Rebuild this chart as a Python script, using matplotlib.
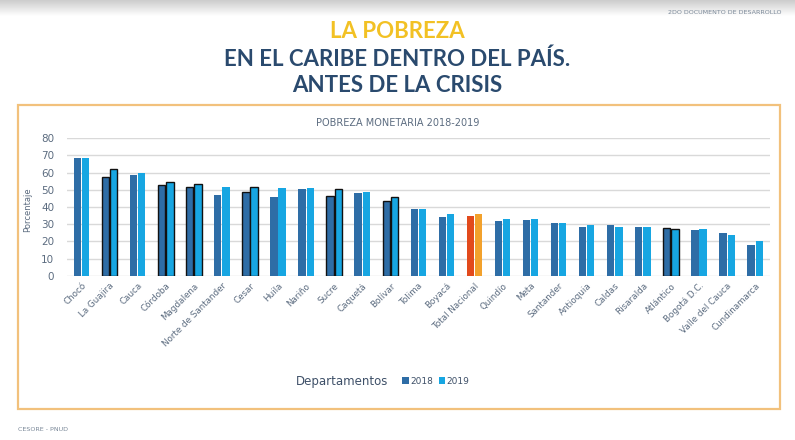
import numpy as np
import matplotlib
matplotlib.use("Agg")
import matplotlib.pyplot as plt
from matplotlib.patches import Rectangle, Patch

# ---- data ----
departamentos = ["Chocó", "La Guajira", "Cauca", "Córdoba", "Magdalena",
                 "Norte de Santander", "Cesar", "Huila", "Nariño", "Sucre",
                 "Caquetá", "Bolívar", "Tolima", "Boyacá", "Total Nacional",
                 "Quindío", "Meta", "Santander", "Antioquia", "Caldas",
                 "Risaralda", "Atlántico", "Bogotá D.C.", "Valle del Cauca",
                 "Cundinamarca"]
pobreza_2018 = [68.5, 57.3, 58.6, 52.6, 51.7, 47.2, 48.9, 45.6, 50.3, 46.2,
                48.3, 43.5, 39.0, 34.2, 34.8, 32.0, 32.6, 30.7, 28.2, 29.5,
                28.5, 28.0, 26.4, 24.7, 18.1]
pobreza_2019 = [68.3, 61.9, 59.6, 54.4, 53.6, 51.8, 51.7, 51.1, 50.9, 50.3,
                48.7, 46.0, 39.0, 35.7, 35.9, 33.0, 32.8, 30.9, 29.7, 28.5,
                28.5, 27.4, 27.2, 23.9, 20.2]
caribe = ["La Guajira", "Córdoba", "Magdalena", "Cesar", "Sucre", "Bolívar",
          "Atlántico"]
yticks = list(range(0, 81, 10))
series_labels = ["2018", "2019"]

# ---- style ----
W, H = 795, 440
c18, c19 = "#2E6DA6", "#17A6E2"
c18_nat, c19_nat = "#E24A1C", "#F2A12C"
txt = "#5C6C80"

fig = plt.figure(figsize=(W / 100, H / 100), dpi=100)
fig.patch.set_facecolor("white")

def fx(px):
    return px / W

def fy(py):
    return 1 - py / H

# top grey shade
axg = fig.add_axes([0, fy(16), 1, 16 / H])
grad = np.linspace(0.80, 1.0, 50).reshape(-1, 1)
axg.imshow(np.dstack([grad, grad, grad]), aspect="auto", extent=[0, 1, 0, 1])
axg.axis("off")

# header / footer
fig.text(fx(782), fy(13), "2DO DOCUMENTO DE DESARROLLO", fontsize=4.6,
         color="#7A8898", ha="right", va="center")
fig.text(fx(18), fy(429), "CESORE - PNUD", fontsize=4.6, color="#7A8898",
         ha="left", va="center")

# titles
tfont = dict(family=["Lato", "DejaVu Sans"],
             weight="bold", fontsize=16, ha="center", va="baseline")
fig.text(0.5, fy(38.5), "LA POBREZA", color="#F2C124", **tfont)
fig.text(0.5, fy(65.5), "EN EL CARIBE DENTRO DEL PAÍS.", color="#2A4A6E", **tfont)
fig.text(0.5, fy(91.5), "ANTES DE LA CRISIS", color="#2A4A6E", **tfont)

# box
fig.patches.append(Rectangle((fx(18), fy(409)), fx(780) - fx(18),
                             fy(105) - fy(409), transform=fig.transFigure,
                             fill=False, edgecolor="#F2C17C", lw=1.6))

fig.text(fx(397.5), fy(123), "POBREZA MONETARIA 2018-2019", fontsize=7,
         color=txt, ha="center", va="center")

# axes
ax = fig.add_axes([fx(66.7), fy(275.7), fx(770) - fx(66.7),
                   fy(138.3) - fy(275.7)])
x = np.arange(len(departamentos))
off, bw = 0.146, 0.26
col18 = [c18_nat if d == "Total Nacional" else c18 for d in departamentos]
col19 = [c19_nat if d == "Total Nacional" else c19 for d in departamentos]
edge = ["#111111" if d in caribe else "none" for d in departamentos]
ax.bar(x - off, pobreza_2018, width=bw, color=col18, edgecolor=edge,
       linewidth=1.0, zorder=3)
ax.bar(x + off, pobreza_2019, width=bw, color=col19, edgecolor=edge,
       linewidth=1.0, zorder=3)

ax.set_xlim(-0.53, len(departamentos) - 0.47)
ax.set_ylim(0, 80)
ax.set_yticks(yticks)
ax.set_yticklabels([str(v) for v in yticks], fontsize=7.5, color=txt)
ax.yaxis.grid(True, color="#D9D9D9", lw=1.0, zorder=0)
ax.set_axisbelow(True)
for s in ax.spines.values():
    s.set_visible(False)
ax.tick_params(length=0)
ax.tick_params(axis="y", pad=9)
ax.set_xticks(x)
ax.set_xticklabels(departamentos, rotation=45, ha="right",
                   rotation_mode="anchor", fontsize=6.3, color=txt)
ax.tick_params(axis="x", pad=4)
ax.set_facecolor("none")

fig.text(fx(28), fy(210), "Porcentaje", rotation=90, fontsize=6,
         color=txt, ha="center", va="center")

# legend row
fig.text(fx(342), fy(381), "Departamentos", fontsize=8.5, color="#3E5068",
         ha="center", va="center")
handles = [Patch(facecolor=c18, edgecolor="none"),
           Patch(facecolor=c19, edgecolor="none")]
fig.legend(handles, series_labels, loc="center",
           bbox_to_anchor=(fx(436), fy(381)), ncol=2, frameon=False,
           fontsize=6.5, handlelength=0.7, handleheight=0.7,
           handletextpad=0.2, columnspacing=0.6, labelcolor="#3E5068")

fig.savefig("out.png", dpi=100, facecolor="white")
